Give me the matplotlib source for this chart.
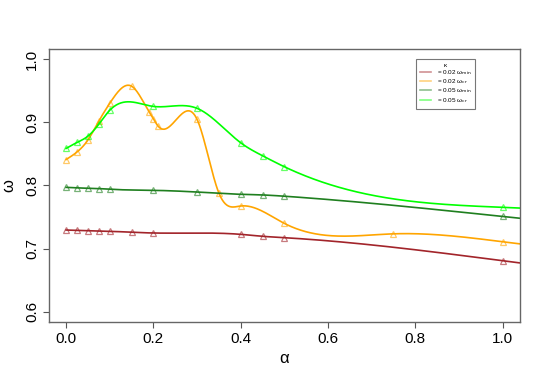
import numpy as np
import matplotlib
matplotlib.use("Agg")
import matplotlib.pyplot as plt

plt.rcParams['font.family'] = ['Liberation Sans', 'DejaVu Sans']

# values
alpha_red = [0, 0.025, 0.05, 0.075, 0.1, 0.15, 0.2, 0.4, 0.45, 0.5, 1.0]
omega_red = [0.7295, 0.729, 0.7285, 0.728, 0.7275, 0.726, 0.7248, 0.7227, 0.7196, 0.7174, 0.681]

alpha_orange = [0, 0.025, 0.05, 0.075, 0.1, 0.15, 0.19, 0.2, 0.21, 0.3, 0.35, 0.4, 0.5, 0.75, 1.0]
omega_orange = [0.841, 0.853, 0.872, 0.902, 0.930, 0.957, 0.9166, 0.9055, 0.8944, 0.9045,
                0.788, 0.7675, 0.740, 0.7235, 0.711]

alpha_dgreen = [0, 0.025, 0.05, 0.075, 0.1, 0.2, 0.3, 0.4, 0.45, 0.5, 1.0]
omega_dgreen = [0.797, 0.7963, 0.7955, 0.795, 0.794, 0.7923, 0.7896, 0.786, 0.785, 0.783, 0.751]

alpha_lime = [0, 0.025, 0.05, 0.075, 0.1, 0.2, 0.3, 0.4, 0.45, 0.5, 1.0]
omega_lime = [0.8586, 0.868, 0.878, 0.897, 0.919, 0.925, 0.922, 0.8675, 0.847, 0.8296, 0.7654]

labels = [r'= 0.02 ω$_{\mathrm{min}}$', r'= 0.02 ω$_{\mathrm{cr}}$',
          r'= 0.05 ω$_{\mathrm{min}}$', r'= 0.05 ω$_{\mathrm{cr}}$']
colors = ['#A2242A', '#FFA500', '#1F7F1F', '#00FF00']


def natural_spline(x, y, xs):
    # plain natural cubic spline, last piece extended past the end
    x = np.asarray(x, float)
    y = np.asarray(y, float)
    n = len(x)
    h = np.diff(x)
    A = np.zeros((n, n))
    b = np.zeros(n)
    A[0, 0] = 1
    A[-1, -1] = 1
    for i in range(1, n - 1):
        A[i, i - 1] = h[i - 1]
        A[i, i] = 2 * (h[i - 1] + h[i])
        A[i, i + 1] = h[i]
        b[i] = 6 * ((y[i + 1] - y[i]) / h[i] - (y[i] - y[i - 1]) / h[i - 1])
    M = np.linalg.solve(A, b)
    idx = np.clip(np.searchsorted(x, xs) - 1, 0, n - 2)
    x0, x1 = x[idx], x[idx + 1]
    hh = x1 - x0
    t0 = x1 - xs
    t1 = xs - x0
    return (M[idx] * t0 ** 3 / (6 * hh) + M[idx + 1] * t1 ** 3 / (6 * hh)
            + (y[idx] / hh - M[idx] * hh / 6) * t0
            + (y[idx + 1] / hh - M[idx + 1] * hh / 6) * t1)


fig = plt.figure(figsize=(5.5, 3.82), dpi=100)
ax = fig.add_axes([0.0885, 0.157, 0.857, 0.715])

series = [(alpha_red, omega_red), (alpha_orange, omega_orange),
          (alpha_dgreen, omega_dgreen), (alpha_lime, omega_lime)]
xs = np.linspace(0, 1.045, 600)
for (a, w), c, lab in zip(series, colors, labels):
    ax.plot(xs, natural_spline(a, w, xs), color=c, lw=1.2, label=lab)
    ax.plot(a, w, linestyle='none', marker='^', markersize=4.2, mfc='none',
            mec=c, mew=0.9, alpha=0.6)

ax.set_xlim(-0.04, 1.04)
ax.set_ylim(0.584, 1.016)
ax.set_xticks([0.0, 0.2, 0.4, 0.6, 0.8, 1.0])
ax.set_yticks([0.6, 0.7, 0.8, 0.9, 1.0])
ax.set_xticklabels(['0.0', '0.2', '0.4', '0.6', '0.8', '1.0'])
ax.set_yticklabels(['0.6', '0.7', '0.8', '0.9', '1.0'], rotation=90, va='center')
ax.tick_params(labelsize=11, length=4, width=0.8, color='#555555', pad=3)
for s in ax.spines.values():
    s.set_color('#666666')
    s.set_linewidth(1.0)

ax.set_xlabel('α', fontsize=12, labelpad=4)
ax.set_ylabel('ω', fontsize=12, labelpad=6)

leg = ax.legend(loc='upper left', bbox_to_anchor=(0.779, 0.963), title='κ',
                fontsize=4.6, title_fontsize=4.6, handlelength=1.8,
                frameon=True, fancybox=False, borderpad=0.6, labelspacing=0.05,
                handletextpad=0.9, borderaxespad=0)
leg.get_frame().set_edgecolor('#555555')
leg.get_frame().set_linewidth(0.8)
for line in leg.get_lines():
    line.set_alpha(0.5)

fig.savefig('out.png', dpi=100)
